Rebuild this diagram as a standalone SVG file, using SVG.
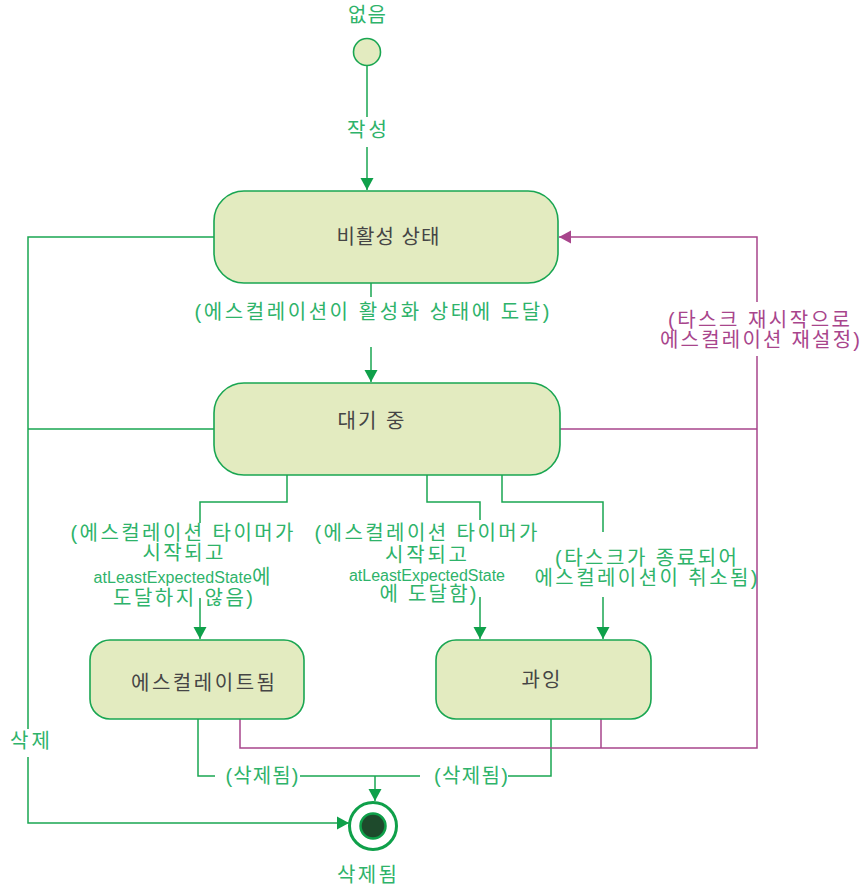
<svg xmlns="http://www.w3.org/2000/svg" width="865" height="888" viewBox="0 0 865 888">
<style>
.node{fill:#e3ebc0;stroke:#1aa652;stroke-width:1.6}
.g{fill:none;stroke:#1aa652;stroke-width:1.5}
.p{fill:none;stroke:#a8458c;stroke-width:1.5}
text{font-family:"Liberation Sans","Noto Sans CJK KR",sans-serif;dominant-baseline:central}
.nt{fill:#454545;font-size:20px;text-anchor:middle}
.lg{fill:#2eb36a;font-size:20px;text-anchor:middle}
.lp{fill:#a8458c;font-size:20px;text-anchor:middle}
.sm{font-size:16px}
</style>
<defs>
<marker id="ag" markerUnits="userSpaceOnUse" markerWidth="14" markerHeight="14" refX="12" refY="7" orient="auto"><path d="M0,0.5 L12,7 L0,13.5 z" fill="#0fa04a"/></marker>
<marker id="ap" markerUnits="userSpaceOnUse" markerWidth="14" markerHeight="14" refX="12" refY="7" orient="auto"><path d="M0,0.5 L12,7 L0,13.5 z" fill="#a8458c"/></marker>
</defs>
<g id="connectors">
<path class="g" d="M367,65 V117 M371,283 V297 M214,237 H28 V729 M214,429 H28 M287,475 V502 H200 V523 M427,475 V502 H480 V520 M502,475 V502 H603 V532 M198,719 V776 H215 M300,776 H420 M508,776 H551 V719"/>
<path class="g" d="M367,147 V190" marker-end="url(#ag)"/>
<path class="g" d="M371,347 V382" marker-end="url(#ag)"/>
<path class="g" d="M28,757 V823 H349" marker-end="url(#ag)"/>
<path class="g" d="M200,598 V639" marker-end="url(#ag)"/>
<path class="g" d="M480,597 V639" marker-end="url(#ag)"/>
<path class="g" d="M603,597 V639" marker-end="url(#ag)"/>
<path class="g" d="M375,776 V801" marker-end="url(#ag)"/>
<path class="p" d="M560,429 H757 M240,719 V748 H757 V356 M601,719 V748"/>
<path class="p" d="M757,302 V237 H559" marker-end="url(#ap)"/>
<text class="lg" x="367" y="130" textLength="40" lengthAdjust="spacing">작성</text>
<text class="lg" x="372" y="312" textLength="355" lengthAdjust="spacing">(에스컬레이션이 활성화 상태에 도달)</text>
<text class="lp" x="759" y="320" textLength="182" lengthAdjust="spacing">(타스크 재시작으로</text>
<text class="lp" x="760" y="340" textLength="200" lengthAdjust="spacing">에스컬레이션 재설정)</text>
<text class="lg" x="182" y="533" textLength="223" lengthAdjust="spacing">(에스컬레이션 타이머가</text>
<text class="lg" x="183" y="553" textLength="81" lengthAdjust="spacing">시작되고</text>
<text class="lg" x="182" y="577" textLength="177" lengthAdjust="spacing"><tspan class="sm">atLeastExpectedState</tspan>에</text>
<text class="lg" x="183" y="598" textLength="140" lengthAdjust="spacing">도달하지 않음)</text>
<text class="lg" x="426" y="533" textLength="223" lengthAdjust="spacing">(에스컬레이션 타이머가</text>
<text class="lg" x="426" y="555" textLength="82" lengthAdjust="spacing">시작되고</text>
<text class="lg sm" x="427" y="575" textLength="156" lengthAdjust="spacing">atLeastExpectedState</text>
<text class="lg" x="428" y="594" textLength="97" lengthAdjust="spacing">에 도달함)</text>
<text class="lg" x="646" y="558" textLength="182" lengthAdjust="spacing">(타스크가 종료되어</text>
<text class="lg" x="646" y="578" textLength="223" lengthAdjust="spacing">에스컬레이션이 취소됨)</text>
<text class="lg" x="30" y="741" textLength="40" lengthAdjust="spacing">삭제</text>
<text class="lg" x="262" y="776" textLength="73" lengthAdjust="spacing">(삭제됨)</text>
<text class="lg" x="471" y="776" textLength="74" lengthAdjust="spacing">(삭제됨)</text>
</g>
<g id="initial">
<circle cx="367" cy="52" r="13.5" class="node"/>
<text class="lg" x="367" y="15" textLength="38" lengthAdjust="spacing">없음</text>
</g>
<g id="inactive">
<rect x="214" y="191" width="344" height="92" rx="30" class="node"/>
<text class="nt" x="388" y="237" textLength="103" lengthAdjust="spacing">비활성 상태</text>
</g>
<g id="waiting">
<rect x="214" y="383" width="346" height="92" rx="30" class="node"/>
<text class="nt" x="371" y="421" textLength="67" lengthAdjust="spacing">대기 중</text>
</g>
<g id="escalated">
<rect x="90" y="640" width="214" height="79" rx="20" class="node"/>
<text class="nt" x="203" y="683" textLength="144" lengthAdjust="spacing">에스컬레이트됨</text>
</g>
<g id="excess">
<rect x="436" y="640" width="215" height="79" rx="20" class="node"/>
<text class="nt" x="541" y="680" textLength="39" lengthAdjust="spacing">과잉</text>
</g>
<g id="final">
<circle cx="373" cy="826" r="23.5" fill="#ffffff" stroke="#0fa04a" stroke-width="3"/>
<circle cx="373" cy="826" r="12.5" fill="#1e4a2c" stroke="#0fa04a" stroke-width="2.5"/>
<text class="lg" x="367" y="875" textLength="60" lengthAdjust="spacing">삭제됨</text>
</g>
</svg>
